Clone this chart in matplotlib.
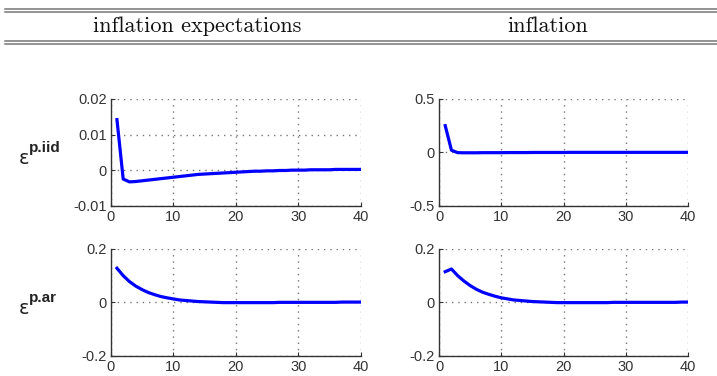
import matplotlib.pyplot as plt
from matplotlib.lines import Line2D

# horizon
t = list(range(1, 41))

# iid shock: inflation expectations / inflation
iid_expect = [0.0142, -0.0025, -0.0033, -0.0032, -0.0030, -0.0028, -0.0026, -0.0024, -0.0022, -0.0020,
              -0.0018, -0.0016, -0.0014, -0.0012, -0.0011, -0.0010, -0.0009, -0.0008, -0.0007, -0.0006,
              -0.0005, -0.0004, -0.0003, -0.0003, -0.0002, -0.0002, -0.0001, -0.0001, 0.0, 0.0,
              0.0, 0.0001, 0.0001, 0.0001, 0.0001, 0.0002, 0.0002, 0.0002, 0.0002, 0.0002]
iid_infl = [0.25, 0.02, -0.003, -0.004, -0.004, -0.004, -0.003, -0.003, -0.003, -0.003,
            -0.002, -0.002, -0.002, -0.002, -0.001, -0.001, -0.001, -0.001, -0.001, -0.001,
            0.0, 0.0, 0.0, 0.0, 0.0, 0.0, 0.0, 0.0, 0.0, 0.0,
            0.0, 0.0, 0.0, 0.0, 0.0, 0.0, 0.0, 0.0, 0.0, 0.0]

# ar shock
ar_expect = [0.128, 0.100, 0.078, 0.061, 0.048, 0.037, 0.029, 0.022, 0.017, 0.013,
             0.009, 0.007, 0.005, 0.003, 0.002, 0.001, 0.0, -0.001, -0.001, -0.001,
             -0.001, -0.001, -0.001, -0.001, -0.001, -0.001, 0.0, 0.0, 0.0, 0.0,
             0.0, 0.0, 0.0, 0.0, 0.0, 0.0, 0.001, 0.001, 0.001, 0.001]
ar_infl = [0.115, 0.125, 0.100, 0.080, 0.063, 0.049, 0.038, 0.030, 0.023, 0.017,
           0.013, 0.009, 0.007, 0.005, 0.003, 0.002, 0.001, 0.0, -0.001, -0.001,
           -0.001, -0.001, -0.001, -0.001, -0.001, -0.001, -0.001, 0.0, 0.0, 0.0,
           0.0, 0.0, 0.0, 0.0, 0.0, 0.0, 0.0, 0.0, 0.001, 0.001]

col_titles = ['inflation expectations', 'inflation']
row_labels = ['p.iid', 'p.ar']

panels = [
    (iid_expect, (-0.01, 0.02), [-0.01, 0, 0.01, 0.02], ['-0.01', '0', '0.01', '0.02']),
    (iid_infl, (-0.5, 0.5), [-0.5, 0, 0.5], ['-0.5', '0', '0.5']),
    (ar_expect, (-0.2, 0.2), [-0.2, 0, 0.2], ['-0.2', '0', '0.2']),
    (ar_infl, (-0.2, 0.2), [-0.2, 0, 0.2], ['-0.2', '0', '0.2']),
]

W, H = 717, 376
fig = plt.figure(figsize=(W / 100, H / 100), dpi=100)

def px(x, y):
    return x / W, 1 - y / H

lefts = [110.7, 439]
widths = [250, 249]
tops = [99, 249]
h = 106.7

for i, (y, lim, yt, ytl) in enumerate(panels):
    r, c = divmod(i, 2)
    x0, y0 = px(lefts[c], tops[r] + h)
    ax = fig.add_axes([x0, y0, widths[c] / W, h / H])
    ax.plot(t, y, color='#0000ff', lw=2.3)
    ax.set_xlim(0, 40)
    ax.set_ylim(*lim)
    ax.set_xticks([0, 10, 20, 30, 40])
    ax.set_yticks(yt)
    ax.set_yticklabels(ytl)
    ax.grid(True, ls=(0, (1, 3.5)), color='#777777', lw=1.0)
    ax.spines['top'].set_visible(False)
    ax.spines['right'].set_visible(False)
    for s in ['left', 'bottom']:
        ax.spines[s].set_color('#333333')
        ax.spines[s].set_linewidth(1.0)
    ax.tick_params(direction='in', length=3, labelsize=10.5, colors='#333333',
                   labelcolor='#333333', pad=3)
    for lab in ax.get_xticklabels() + ax.get_yticklabels():
        lab.set_fontfamily('Liberation Sans')

# row labels
for r, lab in enumerate(row_labels):
    yc = tops[r] + 65
    fig.text(*px(19, yc), 'ε', fontsize=14, family='DejaVu Sans', color='#222222', va='baseline')
    fig.text(*px(29, yc - 12), lab, fontsize=11, family='Liberation Sans', weight='bold',
             color='#222222', va='baseline')

# header
for c, title in enumerate(col_titles):
    xc = [197, 548][c]
    fig.text(*px(xc, 26), title, fontsize=16, family='cmr10', ha='center', va='center',
             color='#111111')

for yy in [8.5, 11.5, 40.5, 43.5]:
    fig.add_artist(Line2D([5 / W, 1], [1 - yy / H] * 2, color='#777777', lw=1.1))

fig.savefig('out.png', dpi=100)
